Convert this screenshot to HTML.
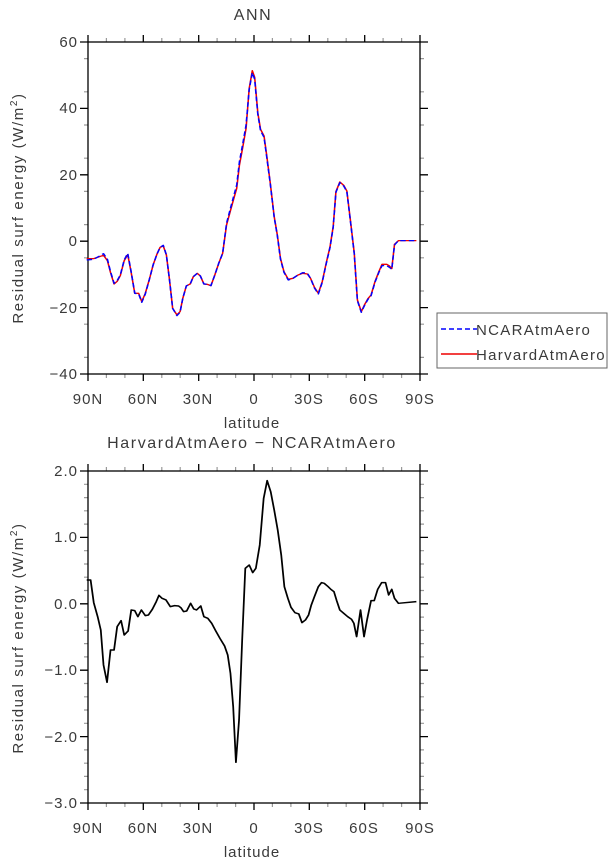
<!DOCTYPE html>
<html><head><meta charset="utf-8"><style>
html,body{margin:0;padding:0;background:#fff;}
svg{display:block;font-family:"Liberation Sans",sans-serif;}
text{fill:#3a3a3a;}
.tk{font-size:15px;letter-spacing:1px;}
.ti{font-size:16px;letter-spacing:1.6px;}
.yt{font-size:15px;letter-spacing:1.6px;}
</style></head><body>
<svg width="616" height="862" viewBox="0 0 616 862" xmlns="http://www.w3.org/2000/svg">

<!-- ========== TOP PLOT ========== -->
<text x="253" y="20" class="ti" text-anchor="middle">ANN</text>
<g id="top">
<g stroke="#999" stroke-width="1.2">
  <path d="M84 58.6H88M84 91.8H88M84 125H88M84 158.2H88M84 191.4H88M84 224.6H88M84 257.8H88M84 291H88M84 324.2H88M84 357.4H88
           M420 58.6H424M420 91.8H424M420 125H424M420 158.2H424M420 191.4H424M420 224.6H424M420 257.8H424M420 291H424M420 324.2H424M420 357.4H424"/>
  <path d="M106.4 38V42M124.9 38V42M161.8 38V42M180.2 38V42M217.1 38V42M235.6 38V42M272.4 38V42M290.9 38V42M327.8 38V42M346.2 38V42M383.1 38V42M401.6 38V42
           M106.4 374V378M124.9 374V378M161.8 374V378M180.2 374V378M217.1 374V378M235.6 374V378M272.4 374V378M290.9 374V378M327.8 374V378M346.2 374V378M383.1 374V378M401.6 374V378"/>
</g>
<g stroke="#000" stroke-width="1.3" fill="none">
  <rect x="88" y="42" width="332" height="332"/>
  <path d="M80 42H88M80 108.4H88M80 174.8H88M80 241.2H88M80 307.6H88M80 374H88
           M420 42H428M420 108.4H428M420 174.8H428M420 241.2H428M420 307.6H428M420 374H428"/>
  <path d="M88 35V42M143.3 35V42M198.7 35V42M254 35V42M309.3 35V42M364.7 35V42M420 35V42
           M88 374V381M143.3 374V381M198.7 374V381M254 374V381M309.3 374V381M364.7 374V381M420 374V381"/>
</g>
<g class="tk" text-anchor="end">
  <text x="78" y="47">60</text><text x="78" y="113">40</text><text x="78" y="180">20</text>
  <text x="78" y="246">0</text><text x="78" y="313">−20</text><text x="78" y="379">−40</text>
</g>
<g class="tk" text-anchor="middle">
  <text x="88" y="404">90N</text><text x="143" y="404">60N</text><text x="198" y="404">30N</text>
  <text x="254" y="404">0</text><text x="309" y="404">30S</text><text x="364" y="404">60S</text><text x="420" y="404">90S</text>
  <text x="252" y="428">latitude</text>
</g>
<text transform="translate(23,208) rotate(-90)" class="yt" text-anchor="middle">Residual surf energy (W/m<tspan font-size="10" dy="-6">2</tspan><tspan dy="6">)</tspan></text>

<g transform="scale(0.3906,0.3333)" fill="none" stroke-linejoin="round">
<polyline stroke="#e00" stroke-width="4" points="222,776 240,776 255,770 265,766 275,782 283,818 292,852 300,844 308,827 318,782 327,764 335,812 345,880 355,880 363,905 372,880 382,840 392,795 402,762 410,742 418,738 426,765 434,840 442,925 453,945 461,935 468,895 477,858 487,852 495,830 505,820 513,828 522,852 530,853 540,857 550,825 560,790 570,760 580,675 590,632 598,598 606,565 613,495 621,445 630,385 638,265 646,212 652,232 660,338 667,388 676,408 683,468 692,550 702,650 710,705 718,775 727,815 738,838 750,835 763,825 775,820 787,822 795,835 805,862 815,880 825,845 835,790 845,740 853,680 860,575 870,546 880,556 888,573 897,660 907,760 915,900 925,935 933,915 942,896 950,885 960,845 970,815 978,793 990,793 997,798 1003,806 1010,733 1020,722 1066,722"/>
<polyline stroke="#00f" stroke-width="4" stroke-dasharray="14,8" points="222,780 240,778 255,768 265,761 275,778 283,815 292,850 300,842 308,825 318,780 327,760 335,810 345,880 355,882 363,907 372,882 382,840 392,795 402,762 410,742 418,736 426,765 434,840 442,925 453,947 461,937 468,895 477,858 487,852 495,830 505,820 513,828 522,852 530,853 540,857 550,825 560,790 570,760 580,670 590,625 598,590 606,555 613,485 621,435 630,375 638,268 646,218 652,238 660,342 667,392 676,412 683,472 692,552 702,652 710,707 718,777 727,817 738,840 750,835 763,825 775,818 787,820 795,835 805,864 815,882 825,847 835,792 845,742 853,682 860,577 870,548 880,558 888,575 897,662 907,762 915,902 925,937 933,917 942,898 950,887 960,847 970,817 978,797 990,797 997,802 1003,808 1010,735 1020,722 1066,722"/>
</g>

<rect x="437" y="313" width="170" height="55" fill="none" stroke="#666" stroke-width="1"/>
<line x1="441" y1="329" x2="477" y2="329" stroke="#00f" stroke-width="1.5" stroke-dasharray="5,3"/>
<line x1="441" y1="354" x2="477" y2="354" stroke="#e00" stroke-width="1.5"/>
<text x="476" y="335" font-size="15" letter-spacing="1.3">NCARAtmAero</text>
<text x="476" y="360" font-size="15" letter-spacing="1.3">HarvardAtmAero</text>
</g>

<!-- ========== BOTTOM PLOT ========== -->
<text x="252" y="448" class="ti" text-anchor="middle">HarvardAtmAero − NCARAtmAero</text>
<g stroke="#999" stroke-width="1.2">
  <path d="M84 484.3H88M84 497.6H88M84 510.8H88M84 524.1H88M84 550.7H88M84 564H88M84 577.2H88M84 590.5H88M84 617.1H88M84 630.4H88M84 643.6H88M84 656.9H88M84 683.5H88M84 696.8H88M84 710H88M84 723.3H88M84 749.9H88M84 763.2H88M84 776.4H88M84 789.7H88
           M420 484.3H424M420 497.6H424M420 510.8H424M420 524.1H424M420 550.7H424M420 564H424M420 577.2H424M420 590.5H424M420 617.1H424M420 630.4H424M420 643.6H424M420 656.9H424M420 683.5H424M420 696.8H424M420 710H424M420 723.3H424M420 749.9H424M420 763.2H424M420 776.4H424M420 789.7H424"/>
  <path d="M106.4 467V471M124.9 467V471M161.8 467V471M180.2 467V471M217.1 467V471M235.6 467V471M272.4 467V471M290.9 467V471M327.8 467V471M346.2 467V471M383.1 467V471M401.6 467V471
           M106.4 803V807M124.9 803V807M161.8 803V807M180.2 803V807M217.1 803V807M235.6 803V807M272.4 803V807M290.9 803V807M327.8 803V807M346.2 803V807M383.1 803V807M401.6 803V807"/>
</g>
<g stroke="#000" stroke-width="1.3" fill="none">
  <rect x="88" y="471" width="332" height="332"/>
  <path d="M80 471H88M80 537.4H88M80 603.8H88M80 670.2H88M80 736.6H88M80 803H88
           M420 471H428M420 537.4H428M420 603.8H428M420 670.2H428M420 736.6H428M420 803H428"/>
  <path d="M88 464V471M143.3 464V471M198.7 464V471M254 464V471M309.3 464V471M364.7 464V471M420 464V471
           M88 803V810M143.3 803V810M198.7 803V810M254 803V810M309.3 803V810M364.7 803V810M420 803V810"/>
</g>
<g class="tk" text-anchor="end">
  <text x="78" y="476">2.0</text><text x="78" y="542">1.0</text><text x="78" y="609">0.0</text>
  <text x="78" y="675">−1.0</text><text x="78" y="742">−2.0</text><text x="78" y="808">−3.0</text>
</g>
<g class="tk" text-anchor="middle">
  <text x="88" y="833">90N</text><text x="143" y="833">60N</text><text x="198" y="833">30N</text>
  <text x="254" y="833">0</text><text x="309" y="833">30S</text><text x="364" y="833">60S</text><text x="420" y="833">90S</text>
  <text x="252" y="857">latitude</text>
</g>
<text transform="translate(23,638) rotate(-90)" class="yt" text-anchor="middle">Residual surf energy (W/m<tspan font-size="10" dy="-6">2</tspan><tspan dy="6">)</tspan></text>

<g transform="translate(0,430) scale(0.3906,0.3333)" fill="none" stroke="#000" stroke-width="4.5" stroke-linejoin="round">
<polyline points="222,450 232,450 240,518 250,560 258,600 265,705 274,757 283,660 292,660 300,590 310,572 318,615 328,603 336,540 345,542 353,560 362,540 372,557 380,555 390,538 400,515 407,496 415,505 425,510 436,530 447,527 457,528 463,533 470,545 478,543 488,520 496,537 503,540 514,528 522,560 532,565 542,580 552,602 563,625 575,648 583,675 590,730 597,830 604,997 612,870 620,630 628,415 638,405 647,428 655,415 665,345 675,205 684,152 693,185 702,240 711,300 720,375 728,470 737,505 745,532 755,548 765,552 773,578 782,570 790,555 797,525 805,500 815,470 823,458 830,460 840,470 847,478 855,485 862,512 870,540 880,550 890,560 900,568 906,580 913,620 923,540 932,620 940,568 950,512 958,512 967,478 977,458 987,458 995,495 1003,478 1010,505 1020,520 1066,515"/>
</g>
</svg>
</body></html>
